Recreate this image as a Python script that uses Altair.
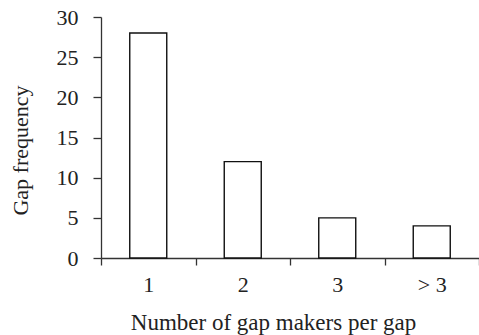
import altair as alt
import pandas as pd

# Number of gap makers per gap and how often each case occurred
categories = ["1", "2", "3", "> 3"]
frequency = [28, 12, 5, 4]

df = pd.DataFrame({"makers": categories, "freq": frequency})

FONT = "Liberation Serif"
INK = "#222222"

bars = alt.Chart(df).mark_bar(
    size=37, fill="white", stroke="#111111", strokeWidth=1.4
).encode(
    x=alt.X(
        "makers:N",
        sort=categories,
        scale=alt.Scale(paddingInner=0, paddingOuter=0),
        axis=alt.Axis(
            title="Number of gap makers per gap",
            labelAngle=0,
            tickBand="extent",
            tickSize=7,
            labelPadding=9,
            labelFontSize=22,
            titleFontSize=23,
            titleX=172,
            titleY=71,
            titleBaseline="alphabetic",
        ),
    ),
    y=alt.Y(
        "freq:Q",
        scale=alt.Scale(domain=[0, 30], nice=False),
        axis=alt.Axis(
            title="Gap frequency",
            values=[0, 5, 10, 15, 20, 25, 30],
            tickSize=8,
            labelPadding=15,
            labelFontSize=22,
            titleFontSize=22,
            titleX=-74,
            titleY=133,
            titleBaseline="alphabetic",
        ),
    ),
)

chart = bars.properties(
    width=378,
    height=241,
    autosize=alt.AutoSizeParams(type="none"),
    padding={"left": 101, "top": 17, "right": 0, "bottom": 77},
).configure_view(
    stroke=None
).configure_axis(
    grid=False,
    domainColor="#333333",
    tickColor="#333333",
    domainWidth=1.3,
    tickWidth=1.3,
    labelFont=FONT,
    titleFont=FONT,
    labelColor=INK,
    titleColor=INK,
    titleFontWeight="normal",
)

chart.save("out.html", embed_options={"renderer": "svg", "actions": False})
